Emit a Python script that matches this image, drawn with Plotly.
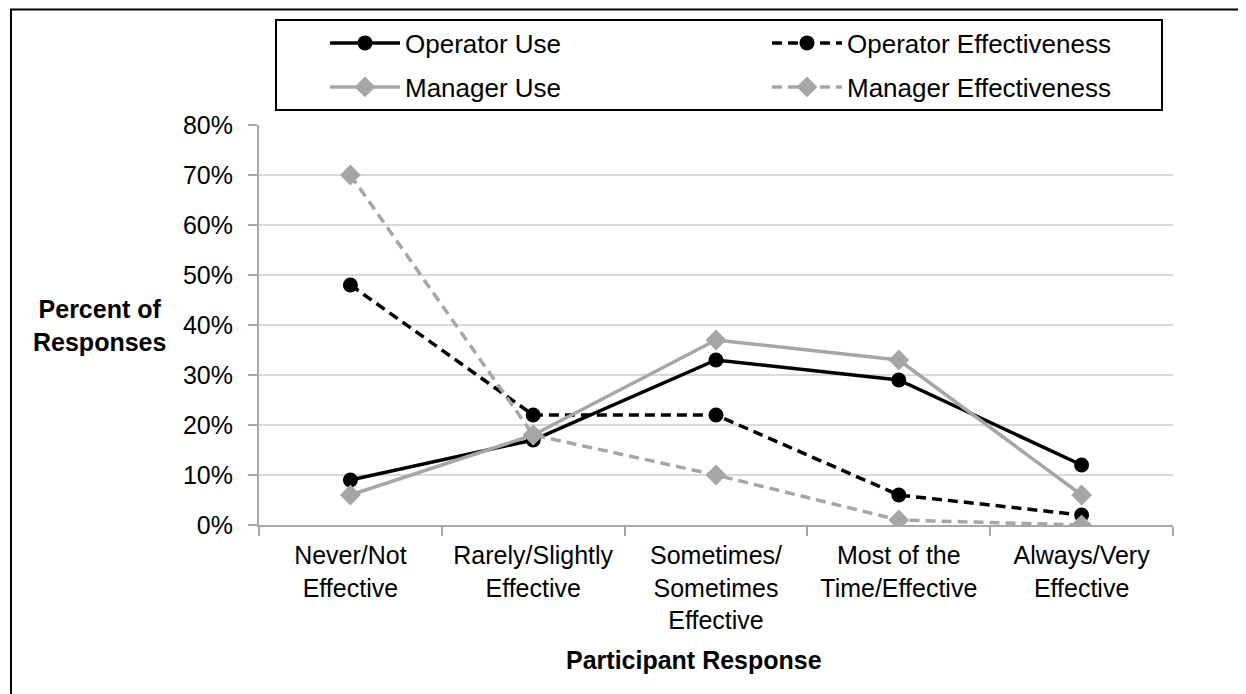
import plotly.graph_objects as go

categories = ["Never/Not<br>Effective", "Rarely/Slightly<br>Effective",
              "Sometimes/<br>Sometimes<br>Effective", "Most of the<br>Time/Effective",
              "Always/Very<br>Effective"]
operator_use = [9, 17, 33, 29, 12]
operator_eff = [48, 22, 22, 6, 2]
manager_use = [6, 18, 37, 33, 6]
manager_eff = [70, 18, 10, 1, 0]

BLACK = "#000000"
GRAY = "#a6a6a6"
FONT = "Liberation Sans, Arial, sans-serif"

fig = go.Figure()
fig.add_trace(go.Scatter(x=categories, y=operator_use, name="Operator Use", mode="lines+markers",
                         line=dict(color=BLACK, width=3.5), marker=dict(symbol="circle", size=15, color=BLACK),
                         legend="legend"))
fig.add_trace(go.Scatter(x=categories, y=operator_eff, name="Operator Effectiveness", mode="lines+markers",
                         line=dict(color=BLACK, width=3.5, dash="10px,6px"),
                         marker=dict(symbol="circle", size=15, color=BLACK), legend="legend"))
fig.add_trace(go.Scatter(x=categories, y=manager_use, name="Manager Use", mode="lines+markers",
                         line=dict(color=GRAY, width=3.5), marker=dict(symbol="diamond", size=16, color=GRAY),
                         legend="legend2"))
fig.add_trace(go.Scatter(x=categories, y=manager_eff, name="Manager Effectiveness", mode="lines+markers",
                         line=dict(color=GRAY, width=3.5, dash="10px,6px"),
                         marker=dict(symbol="diamond", size=16, color=GRAY), legend="legend2"))

OFF = 8  # page body margin
W, H = 1246, 694
L, R, T, B = 259 - OFF, 1173 - OFF, 125 - OFF, 525 - OFF

def px(xs):
    return (xs - OFF - L) / (R - L)

def py(ys):
    return (B - (ys - OFF)) / (B - T)

legend_common = dict(orientation="h", xanchor="left", yanchor="middle",
                     font=dict(family=FONT, size=26, color=BLACK),
                     bgcolor="rgba(0,0,0,0)", borderwidth=0, itemwidth=70,
                     entrywidth=357, traceorder="normal")

fig.update_layout(
    width=W, height=H,
    margin=dict(l=L, r=W - R, t=T, b=H - B),
    paper_bgcolor="white", plot_bgcolor="white",
    font=dict(family=FONT, size=25, color=BLACK),
    legend=dict(x=px(325), y=py(43), **legend_common),
    legend2=dict(x=px(325), y=py(87), **legend_common),
    xaxis=dict(range=[-0.5, 4.5], showline=True, linecolor=GRAY, linewidth=2,
               ticks="outside", tickson="boundaries", ticklen=9, tickcolor=GRAY, tickwidth=2,
               showgrid=False, tickfont=dict(size=25, color=BLACK), ticklabelstandoff=7),
    yaxis=dict(range=[0, 80], dtick=10, ticksuffix="%", showline=True, linecolor=GRAY, linewidth=2,
               ticks="outside", ticklen=9, tickcolor=GRAY, tickwidth=2,
               showgrid=True, gridcolor="#d9d9d9", gridwidth=2, zeroline=False,
               tickfont=dict(size=25, color=BLACK), ticklabelstandoff=10),
    showlegend=True,
)

fig.add_shape(type="rect", xref="paper", yref="paper",
              x0=px(276), x1=px(1162), y0=py(110), y1=py(20),
              line=dict(color=BLACK, width=2), fillcolor="rgba(0,0,0,0)", layer="below")
fig.add_shape(type="rect", xref="paper", yref="paper",
              x0=px(11), x1=px(1270), y0=py(720), y1=py(9.5),
              line=dict(color=BLACK, width=2), fillcolor="rgba(0,0,0,0)", layer="below")

fig.add_annotation(text="<b>Percent of<br>Responses</b>", xref="paper", yref="paper",
                   x=px(99), y=py(325), xanchor="center", yanchor="middle",
                   showarrow=False, align="center",
                   font=dict(family=FONT, size=25, color=BLACK))
fig.add_annotation(text="<b>Participant Response</b>", xref="paper", yref="paper",
                   x=px(694), y=py(660), xanchor="center", yanchor="middle", showarrow=False,
                   font=dict(family=FONT, size=25, color=BLACK))

fig.write_html("out.html")
